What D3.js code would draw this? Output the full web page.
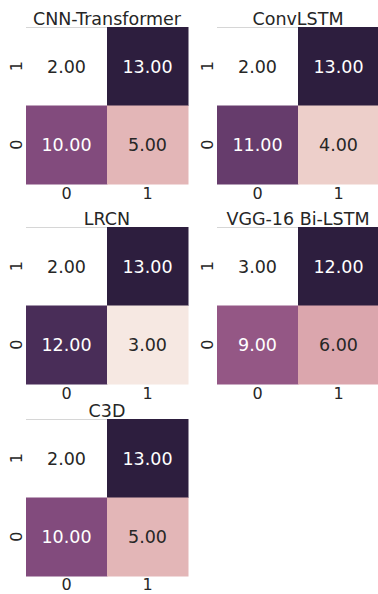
<!DOCTYPE html>
<html>
<head>
<meta charset="utf-8">
<script src="https://cdn.jsdelivr.net/npm/d3@7"></script>
<style>
  body { margin: 0; background: #fff; }
  text { font-family: "DejaVu Sans", sans-serif; }
</style>
</head>
<body>
<div id="chart"></div>
<script>
// datos (fila "1" arriba, fila "0" abajo)
const modelos = ["CNN-Transformer", "ConvLSTM", "LRCN", "VGG-16 Bi-LSTM", "C3D"];
const etiquetasX = ["0", "1"];
const etiquetasY = ["1", "0"];
const cnnTransformer = [[2, 13], [10, 5]];
const convLSTM = [[2, 13], [11, 4]];
const lrcn = [[2, 13], [12, 3]];
const vggBiLSTM = [[3, 12], [9, 6]];
const c3d = [[2, 13], [10, 5]];
const matrices = [cnnTransformer, convLSTM, lrcn, vggBiLSTM, c3d];

const width = 378, height = 594;
const colX = [26, 217];
const rowY = [27, 227, 419];
const panelW = 162, panelH = 157;

// paleta cubehelix como la de seaborn (light=1, dark=0.15)
function cubehelix(lam) {
  const start = 0, rot = 0.4, hue = 0.8, gamma = 1;
  const xg = Math.pow(lam, gamma);
  const a = hue * xg * (1 - xg) / 2;
  const phi = 2 * Math.PI * (start / 3 + rot * lam);
  const c = (p0, p1) => Math.max(0, Math.min(1, xg + a * (p0 * Math.cos(phi) + p1 * Math.sin(phi))));
  return [c(-0.14861, 1.78277), c(-0.29227, -0.90649), c(1.97294, 0)];
}
function luminancia(rgb) {
  const lin = rgb.map(v => v <= 0.03928 ? v / 12.92 : Math.pow((v + 0.055) / 1.055, 2.4));
  return 0.2126 * lin[0] + 0.7152 * lin[1] + 0.0722 * lin[2];
}

const svg = d3.select("#chart").append("svg")
  .attr("width", width)
  .attr("height", height)
  .style("background", "#fff");

matrices.forEach(function(m, i) {
  const fila = Math.floor(i / 2);
  const ox = colX[i % 2], oy = rowY[fila];
  const g = svg.append("g").attr("transform", `translate(${ox},${oy})`);

  const x = d3.scaleBand().domain(etiquetasX).range([0, panelW]);
  const y = d3.scaleBand().domain(etiquetasY).range([0, panelH]);
  const valores = m.flat();
  const lam = d3.scaleLinear().domain(d3.extent(valores)).range([1, 0.15]);

  const celdas = [];
  etiquetasY.forEach((fy, r) => etiquetasX.forEach((fx, c) => celdas.push({ fx, fy, v: m[r][c] })));

  const cel = g.selectAll("g.celda").data(celdas).enter().append("g").attr("class", "celda");
  cel.append("rect")
    .attr("x", d => x(d.fx))
    .attr("y", d => y(d.fy))
    .attr("width", x.bandwidth() + 0.5)
    .attr("height", y.bandwidth() + 0.5)
    .attr("fill", d => d3.rgb(...cubehelix(lam(d.v)).map(v => v * 255)));
  cel.append("text")
    .attr("x", d => x(d.fx) + x.bandwidth() / 2)
    .attr("y", d => y(d.fy) + y.bandwidth() / 2)
    .attr("dy", "0.36em")
    .attr("text-anchor", "middle")
    .style("font-size", "17.5px")
    .attr("fill", d => luminancia(cubehelix(lam(d.v))) > 0.408 ? "#262626" : "#fff")
    .text(d => d.v.toFixed(2));

  // linea tenue arriba
  g.append("line")
    .attr("x1", 0).attr("x2", panelW / 2)
    .attr("y1", 0.5).attr("y2", 0.5)
    .attr("stroke", "#d6d6d6").attr("stroke-width", 1);

  // ejes
  g.append("g")
    .attr("transform", `translate(0,${panelH})`)
    .call(d3.axisBottom(x).tickSize(0).tickPadding(fila === 2 ? 3 : 4))
    .call(a => a.select(".domain").remove())
    .selectAll("text")
    .style("font-size", "16px")
    .attr("fill", "#262626");

  g.append("g")
    .call(d3.axisLeft(y).tickSize(0))
    .call(a => a.select(".domain").remove())
    .selectAll("text")
    .style("font-size", "16px")
    .attr("fill", "#262626")
    .attr("text-anchor", "middle")
    .attr("x", 0)
    .attr("y", 0)
    .attr("dy", "0.36em")
    .attr("transform", "translate(-10,0) rotate(-90)");

  g.append("text")
    .attr("x", panelW / 2)
    .attr("y", -2)
    .attr("text-anchor", "middle")
    .style("font-size", "17.5px")
    .attr("fill", "#262626")
    .text(modelos[i]);
});
</script>
</body>
</html>
